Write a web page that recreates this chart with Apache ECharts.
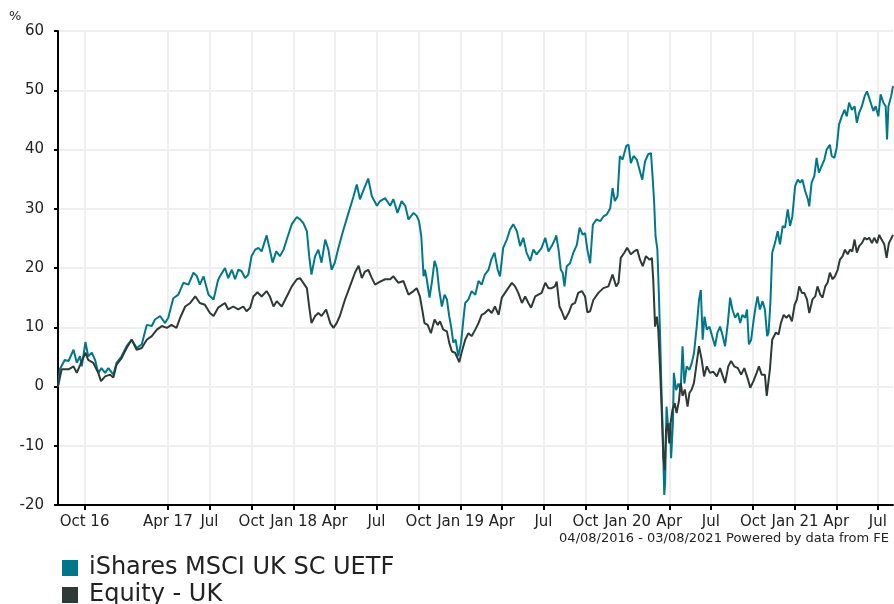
<!DOCTYPE html>
<html lang="en">

<head>
    <meta charset="UTF-8">
    <title>iShares MSCI UK SC UETF vs Equity - UK</title>
    <script src="https://cdn.jsdelivr.net/npm/echarts@6.0.0/dist/echarts.min.js"></script>
    <style>
        body { margin: 0; background: #fff; }
    </style>
</head>

<body>
    <div id="main" style="width: 894px;height:604px;"></div>

    <script type="text/javascript">
        // period shown: 04/08/2016 - 03/08/2021, x values are days since the start date
        const startDate = Date.UTC(2016, 7, 4);
        const endDay = 1825;

        // [day, cumulative % return]
        const ishares = [
            [0, 0], [4, 2.9], [15, 4.5], [23, 4.3], [34, 6.2], [41, 4.0], [48, 5.1], [52, 3.4], [60, 7.5], [66, 5.1],
            [74, 5.7], [81, 4.5], [88, 2.3], [95, 3.1], [103, 2.3], [110, 3.1], [121, 2.0], [128, 4.0], [139, 5.1], [150, 6.8],
            [161, 7.9], [172, 6.5], [183, 7.1], [194, 10.4], [205, 10.2], [212, 11.3], [223, 11.9], [234, 10.7], [241, 11.6], [252, 14.9],
            [263, 15.5], [274, 17.5], [285, 17.2], [296, 19.2], [303, 18.7], [310, 17.2], [318, 18.6], [329, 15.5], [340, 14.7], [350, 18.0],
            [354, 18.6], [365, 20.0], [372, 18.3], [380, 19.7], [387, 18.1], [394, 19.7], [401, 19.5], [409, 18.3], [416, 18.9], [423, 22.0],
            [431, 23.1], [438, 23.4], [445, 22.8], [456, 25.5], [463, 23.1], [469, 20.9], [477, 22.8], [485, 22.0], [493, 23.1], [500, 24.8],
            [511, 27.4], [522, 28.6], [529, 28.2], [536, 27.6], [544, 26.2], [549, 22.0], [554, 18.9], [562, 22.0], [569, 23.1], [576, 20.9],
            [584, 24.8], [591, 23.1], [598, 19.7], [605, 20.9], [613, 23.4], [624, 26.5], [635, 29.3], [646, 32.1], [653, 34.1], [660, 31.6],
            [667, 33.0], [678, 35.1], [686, 32.1], [697, 30.5], [704, 31.3], [715, 31.8], [726, 30.5], [733, 31.6], [742, 29.3], [751, 31.3],
            [759, 30.5], [766, 28.2], [777, 29.3], [784, 28.8], [789, 27.9], [794, 25.4], [799, 18.6], [802, 19.7], [806, 18.1], [812, 15.0],
            [817, 17.5], [823, 21.2], [828, 20.0], [833, 16.4], [839, 13.5], [845, 15.5], [850, 14.7], [855, 11.9], [859, 10.2], [864, 7.4],
            [869, 7.9], [875, 5.1], [881, 7.4], [886, 11.3], [890, 14.1], [897, 14.7], [904, 16.1], [912, 15.5], [919, 17.8], [926, 17.2],
            [933, 18.9], [941, 19.7], [947, 21.4], [954, 22.6], [961, 19.7], [966, 18.6], [973, 23.4], [981, 24.8], [988, 26.5], [995, 27.4],
            [1003, 26.2], [1010, 23.7], [1017, 25.1], [1024, 22.6], [1032, 21.2], [1039, 23.1], [1046, 22.3], [1057, 23.4], [1065, 25.1], [1072, 22.8],
            [1079, 23.7], [1086, 24.8], [1089, 25.5], [1094, 23.1], [1099, 19.7], [1103, 19.2], [1107, 16.9], [1112, 20.3], [1119, 20.8], [1126, 22.5],
            [1134, 23.9], [1140, 26.8], [1147, 25.6], [1152, 25.9], [1157, 23.1], [1163, 20.8], [1169, 27.3], [1177, 28.2], [1185, 27.9], [1192, 28.7],
            [1199, 29.0], [1207, 30.1], [1212, 33.5], [1217, 31.3], [1223, 32.1], [1228, 38.9], [1234, 38.3], [1242, 40.6], [1247, 40.8], [1252, 37.7],
            [1258, 38.9], [1265, 38.3], [1271, 36.6], [1277, 34.9], [1283, 38.0], [1290, 39.2], [1296, 39.4], [1300, 34.9], [1303, 31.0], [1306, 25.4],
            [1310, 23.1], [1313, 16.3], [1316, 8.5], [1319, -0.6], [1322, -8.5], [1325, -18.3], [1327, -16.3], [1330, -3.4], [1334, -7.3], [1338, -6.2],
            [1340, -12.1], [1344, -6.2], [1346, 2.3], [1351, -0.6], [1356, 0.5], [1361, -0.6], [1365, 6.8], [1369, 0.5], [1374, 3.4], [1380, 2.8],
            [1385, 3.9], [1390, 5.6], [1396, 10.1], [1401, 14.6], [1405, 16.3], [1409, 7.9], [1413, 11.8], [1418, 9.6], [1424, 10.1], [1429, 8.7],
            [1436, 6.8], [1441, 9.0], [1447, 10.1], [1452, 8.8], [1458, 6.8], [1464, 10.7], [1469, 15.0], [1474, 13.0], [1480, 11.6], [1486, 12.4],
            [1491, 10.7], [1496, 12.1], [1502, 11.6], [1506, 13.0], [1510, 7.1], [1515, 7.9], [1520, 11.0], [1525, 13.6], [1529, 15.2], [1534, 13.0],
            [1540, 14.4], [1545, 13.0], [1550, 8.5], [1553, 9.1], [1557, 14.1], [1561, 22.6], [1567, 24.2], [1573, 26.2], [1578, 24.0], [1584, 27.1],
            [1589, 26.8], [1595, 29.9], [1600, 27.1], [1605, 28.7], [1611, 33.8], [1617, 34.9], [1622, 34.4], [1627, 34.9], [1633, 33.0], [1639, 31.6],
            [1642, 30.4], [1647, 34.4], [1653, 35.5], [1658, 38.6], [1663, 36.1], [1669, 37.2], [1675, 38.3], [1680, 40.0], [1687, 40.8], [1691, 38.9],
            [1697, 38.6], [1702, 40.3], [1707, 44.2], [1713, 45.6], [1719, 46.7], [1724, 45.6], [1729, 47.9], [1735, 46.7], [1741, 47.3], [1746, 44.5],
            [1751, 46.2], [1757, 47.3], [1763, 49.0], [1768, 49.8], [1773, 48.7], [1777, 49.0], [1782, 46.5], [1787, 47.3], [1793, 45.6], [1798, 49.3],
            [1804, 47.9], [1809, 47.3], [1812, 41.7], [1815, 47.3], [1821, 49.0], [1825, 50.7]
        ];

        const equityUK = [
            [0, 0], [8, 2.9], [23, 2.9], [34, 3.4], [41, 2.3], [52, 4.3], [60, 5.7], [66, 4.5], [77, 4.0], [88, 2.3],
            [94, 0.9], [103, 1.7], [114, 2.0], [121, 1.5], [128, 3.7], [139, 4.8], [150, 6.5], [161, 7.9], [172, 6.2], [183, 6.5],
            [194, 7.9], [205, 8.5], [216, 9.6], [227, 10.2], [238, 9.9], [248, 10.4], [259, 9.9], [267, 11.6], [278, 13.5], [289, 14.1],
            [300, 15.2], [310, 14.1], [321, 13.8], [332, 12.4], [340, 11.9], [350, 13.3], [354, 13.5], [365, 14.1], [372, 13.0], [383, 13.5],
            [394, 13.0], [405, 13.5], [412, 12.7], [420, 13.3], [427, 15.2], [436, 15.9], [445, 15.2], [456, 16.1], [463, 15.2], [471, 13.5],
            [478, 14.4], [489, 13.5], [500, 15.2], [511, 16.9], [522, 18.1], [529, 18.3], [536, 17.5], [544, 16.6], [549, 13.5], [554, 10.7],
            [562, 11.9], [569, 12.4], [576, 11.9], [586, 13.0], [595, 10.7], [602, 9.9], [609, 10.7], [616, 11.9], [627, 14.6], [638, 16.9],
            [649, 19.2], [657, 20.4], [664, 18.3], [671, 19.4], [678, 19.7], [686, 18.3], [693, 17.2], [704, 17.7], [715, 18.1], [726, 18.1],
            [733, 18.6], [744, 17.5], [755, 17.8], [766, 15.5], [777, 16.1], [784, 16.6], [791, 15.2], [796, 13.0], [801, 10.7], [808, 10.4],
            [815, 9.0], [823, 11.3], [830, 10.4], [835, 11.0], [842, 9.6], [850, 9.3], [855, 7.4], [861, 5.9], [868, 5.7], [877, 4.1],
            [882, 5.7], [890, 7.9], [897, 9.0], [904, 8.5], [912, 9.6], [919, 10.7], [926, 12.1], [933, 12.4], [941, 13.0], [948, 12.4],
            [955, 13.5], [963, 12.1], [970, 15.0], [977, 15.8], [984, 16.6], [992, 17.5], [999, 16.9], [1006, 15.8], [1014, 14.1], [1021, 15.2],
            [1028, 14.1], [1034, 13.3], [1043, 15.2], [1050, 15.5], [1057, 15.8], [1065, 17.5], [1072, 16.6], [1079, 16.6], [1086, 16.9], [1090, 17.7],
            [1096, 13.5], [1101, 12.7], [1108, 11.3], [1116, 12.4], [1123, 13.8], [1130, 14.1], [1137, 15.8], [1145, 16.1], [1152, 15.2], [1157, 12.5],
            [1163, 12.7], [1170, 14.6], [1181, 15.8], [1192, 16.6], [1203, 16.9], [1212, 18.9], [1220, 16.9], [1225, 17.5], [1230, 21.7], [1237, 22.5],
            [1244, 23.4], [1252, 22.3], [1259, 22.8], [1266, 23.1], [1272, 21.4], [1278, 20.3], [1285, 22.0], [1293, 21.4], [1298, 21.7], [1301, 18.0],
            [1305, 10.1], [1309, 11.8], [1312, 9.6], [1316, 2.8], [1320, -5.1], [1323, -11.8], [1326, -14.1], [1329, -7.3], [1332, -6.2], [1336, -9.6],
            [1339, -6.2], [1343, -3.9], [1348, -2.8], [1352, -4.5], [1357, -2.5], [1361, 0.6], [1365, -1.6], [1370, -0.5], [1376, -3.4], [1380, -1.1],
            [1385, -0.5], [1390, 0.6], [1396, 4.0], [1401, 6.8], [1407, 4.5], [1412, 1.7], [1418, 3.4], [1425, 2.3], [1432, 2.5], [1440, 1.7],
            [1447, 3.1], [1451, 3.4], [1458, 0.6], [1465, 3.4], [1471, 4.3], [1478, 3.4], [1486, 3.1], [1493, 2.0], [1500, 3.1], [1508, 1.2],
            [1513, -0.2], [1520, 0.9], [1527, 2.3], [1532, 3.4], [1538, 2.0], [1545, 2.0], [1549, -1.6], [1553, -1.3], [1556, 2.9], [1561, 7.9],
            [1569, 9.1], [1575, 8.8], [1580, 10.7], [1586, 12.1], [1592, 11.6], [1598, 12.1], [1604, 11.0], [1610, 13.8], [1615, 14.7], [1620, 16.9],
            [1626, 15.8], [1631, 15.8], [1637, 14.7], [1642, 12.4], [1649, 14.7], [1655, 15.2], [1660, 16.9], [1666, 15.5], [1671, 15.0], [1677, 16.9],
            [1682, 17.5], [1687, 19.2], [1693, 18.1], [1698, 18.6], [1704, 19.7], [1709, 21.4], [1715, 22.0], [1720, 23.1], [1726, 22.3], [1731, 23.1],
            [1736, 22.8], [1741, 24.8], [1746, 22.6], [1751, 23.7], [1757, 24.2], [1763, 25.1], [1768, 24.8], [1773, 25.1], [1779, 24.2], [1784, 25.1],
            [1790, 24.2], [1795, 25.6], [1800, 24.8], [1806, 24.0], [1811, 21.7], [1816, 24.2], [1822, 25.1], [1825, 25.6]
        ];

        // x-axis ticks (first day of the quarter, [year, month index]) and their labels
        const tickMonths = [
            [2016, 9], [2017, 3], [2017, 6], [2017, 9], [2018, 0], [2018, 3], [2018, 6], [2018, 9], [2019, 0], [2019, 3],
            [2019, 6], [2019, 9], [2020, 0], [2020, 3], [2020, 6], [2020, 9], [2021, 0], [2021, 3], [2021, 6]
        ];
        const tickLabels = [
            'Oct 16', 'Apr 17', 'Jul', 'Oct', 'Jan 18', 'Apr', 'Jul', 'Oct', 'Jan 19', 'Apr',
            'Jul', 'Oct', 'Jan 20', 'Apr', 'Jul', 'Oct', 'Jan 21', 'Apr', 'Jul'
        ];

        const seriesNames = ['iShares MSCI UK SC UETF', 'Equity - UK'];
        const yTicks = { min: -20, max: 60, step: 10 };

        const DAY = 86400000;
        // tick positions as day offsets from the start date
        const tickValues = tickMonths.map(t => Math.round((Date.UTC(t[0], t[1], 1) - startDate) / DAY));

        const fontFamily = "'DejaVu Sans', Verdana, sans-serif";
        const gridColor = '#efefef';

        let myChart = echarts.init(document.getElementById('main'));

        // one legend per row, the bottom edge is too tight for a vertical legend to stay in one column
        const legendRow = (name, top) => ({
            orient: 'vertical',
            left: 57,
            top: top,
            itemWidth: 16,
            itemHeight: 16,
            icon: 'rect',
            textStyle: { fontSize: 24, color: '#222', fontFamily: fontFamily, padding: [0, 0, 0, 6] },
            data: [name]
        });

        let options = {
            animation: false,
            textStyle: { fontFamily: fontFamily },
            grid: { left: 58, right: 1, top: 31, bottom: 99, containLabel: false },
            xAxis: {
                type: 'value',
                min: 0,
                max: endDay,
                axisLine: { onZero: false, lineStyle: { color: '#000', width: 2 } },
                axisTick: {
                    show: true, length: 5, customValues: tickValues,
                    lineStyle: { color: '#000', width: 2 }
                },
                axisLabel: {
                    customValues: tickValues,
                    color: '#222', fontSize: 15, margin: 10, fontFamily: fontFamily,
                    formatter: function (value) {
                        let i = tickValues.indexOf(value);
                        return i >= 0 ? tickLabels[i] : '';
                    }
                },
                splitLine: { show: true, lineStyle: { color: gridColor, width: 2 } }
            },
            yAxis: {
                type: 'value',
                min: yTicks.min,
                max: yTicks.max,
                interval: yTicks.step,
                axisLine: { show: true, lineStyle: { color: '#000', width: 2 } },
                axisTick: { show: true, length: 4, lineStyle: { color: '#000', width: 2 } },
                axisLabel: { color: '#222', fontSize: 15, margin: 14, fontFamily: fontFamily },
                splitLine: { show: true, lineStyle: { color: gridColor, width: 2 } }
            },
            legend: [
                legendRow(seriesNames[0], 551),
                legendRow(seriesNames[1], 578)
            ],
            graphic: [
                {
                    type: 'text', left: 9, top: 10,
                    style: { text: '%', fontSize: 13, fill: '#222', fontFamily: fontFamily }
                },
                {
                    type: 'text', right: 5, top: 532,
                    style: {
                        text: '04/08/2016 - 03/08/2021 Powered by data from FE',
                        fontSize: 13, fill: '#222', fontFamily: fontFamily
                    }
                }
            ],
            series: [
                {
                    name: seriesNames[0],
                    type: 'line',
                    showSymbol: false,
                    color: '#00788a',
                    lineStyle: { width: 2 },
                    data: ishares
                },
                {
                    name: seriesNames[1],
                    type: 'line',
                    showSymbol: false,
                    color: '#2e3a37',
                    lineStyle: { width: 2 },
                    data: equityUK
                }
            ]
        };

        myChart.setOption(options);
    </script>
</body>

</html>
